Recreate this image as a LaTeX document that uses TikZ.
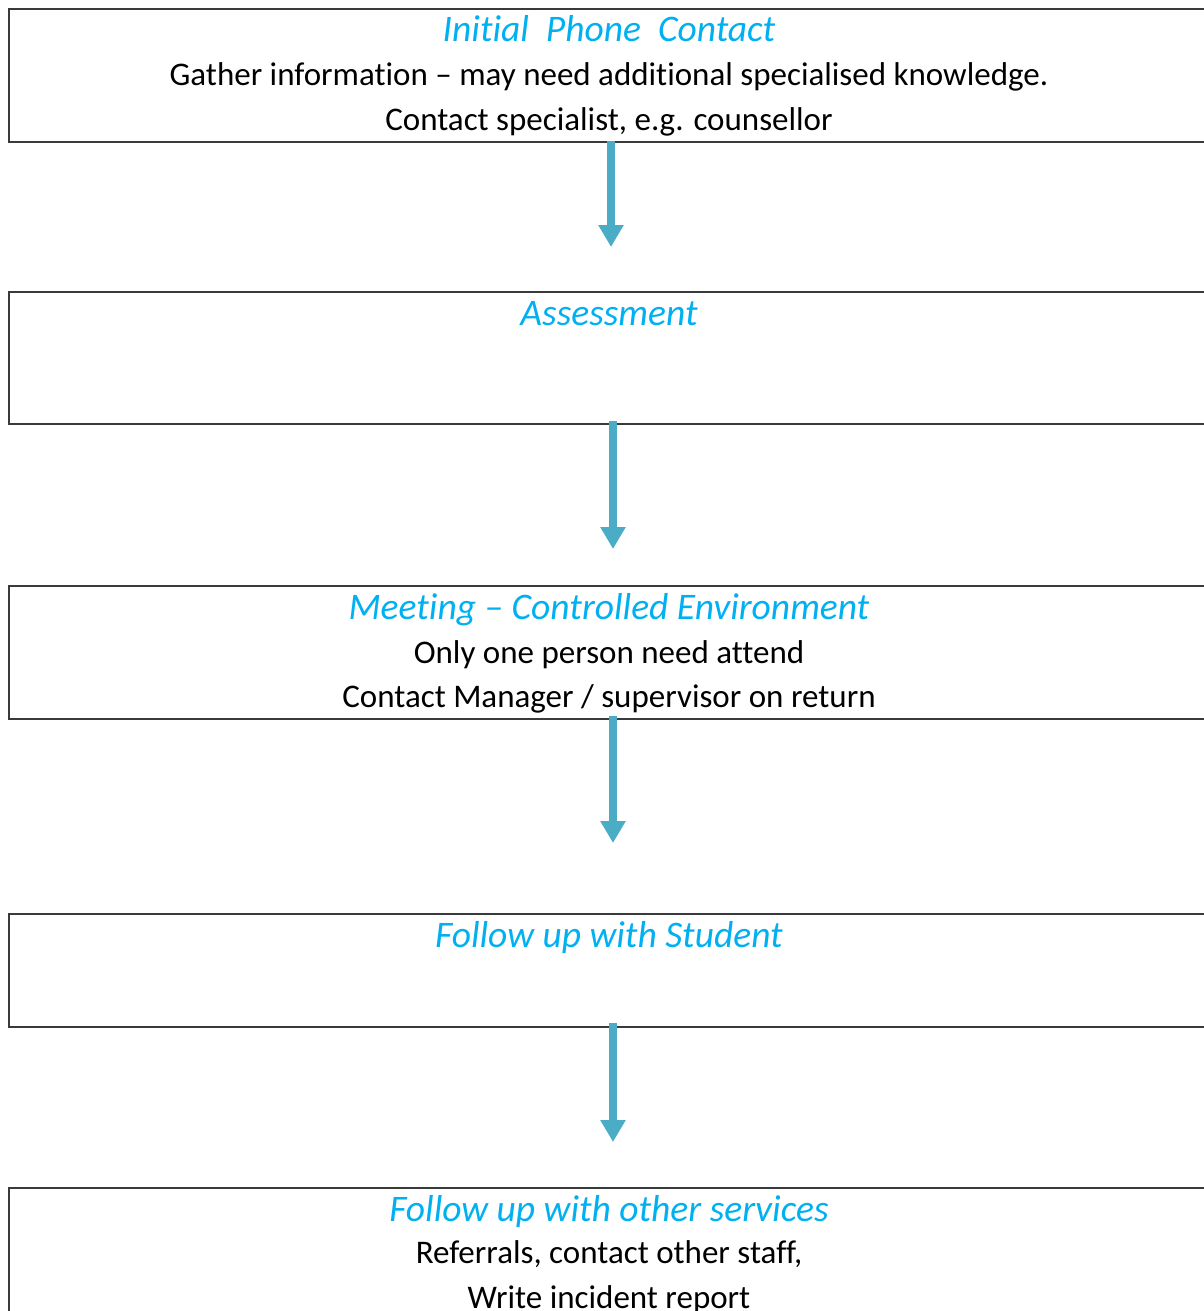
\documentclass[tikz,border=0pt]{standalone}
\usepackage{fontspec}
\setmainfont[Ligatures={NoCommon}]{Carlito}
\usetikzlibrary{arrows.meta}
\definecolor{titleblue}{HTML}{00B0F0}
\definecolor{arrowblue}{HTML}{4BACC6}
\definecolor{boxline}{HTML}{3A3A3A}
\tikzset{
  box/.style={draw=boxline, line width=1.6pt, rectangle, anchor=north west, inner sep=0pt},
  ttl/.style={anchor=base, text=titleblue, font=\fontsize{37.5}{40}\selectfont\itshape, inner sep=0pt},
  body/.style={anchor=base, text=black, font=\fontsize{33}{36}\selectfont, inner sep=0pt},
  flow/.style={draw=arrowblue, line width=8pt, -{Triangle[width=24pt,length=22pt]}}
}
\begin{document}
\begin{tikzpicture}[x=1pt,y=-1pt]
\useasboundingbox (0,0) rectangle (1203,1311);
\node[box, minimum width=1220pt, minimum height=133pt] (b1) at (8,8) {};
\node[box, minimum width=1220pt, minimum height=132pt] (b2) at (8,291) {};
\node[box, minimum width=1220pt, minimum height=133pt] (b3) at (8,585) {};
\node[box, minimum width=1220pt, minimum height=113pt] (b4) at (8,913) {};
\node[box, minimum width=1220pt, minimum height=160pt] (b5) at (8,1187) {};

\node[ttl] (t1) at (609,42) {Initial\ \ Phone\ \ Contact};
\node[body] (l1a) at (609,86) {Gather information – may need additional specialised knowledge.};
\node[body] (l1b) at (609,131) {Contact specialist, e.g. counsellor};

\node[ttl] (t2) at (609,325) {Assessment};

\node[ttl] (t3) at (609,619) {Meeting – Controlled Environment};
\node[body] (l3a) at (609,663) {Only one person need attend};
\node[body] (l3b) at (609,707) {Contact Manager / supervisor on return};

\node[ttl] (t4) at (609,947) {Follow up with Student};

\node[ttl] (t5) at (609,1221) {Follow up with other services};
\node[body] (l5a) at (609,1263) {Referrals, contact other staff,};
\node[body] (l5b) at (609,1308) {Write incident report};

\coordinate (s1) at (611,141);
\coordinate (e1) at (611,247);
\coordinate (s2) at (613,421);
\coordinate (e2) at (613,549);
\coordinate (s3) at (613,716);
\coordinate (e3) at (613,843);
\coordinate (s4) at (613,1023);
\coordinate (e4) at (613,1142);
\draw[flow] (s1) -- (e1);
\draw[flow] (s2) -- (e2);
\draw[flow] (s3) -- (e3);
\draw[flow] (s4) -- (e4);
\end{tikzpicture}
\end{document}
